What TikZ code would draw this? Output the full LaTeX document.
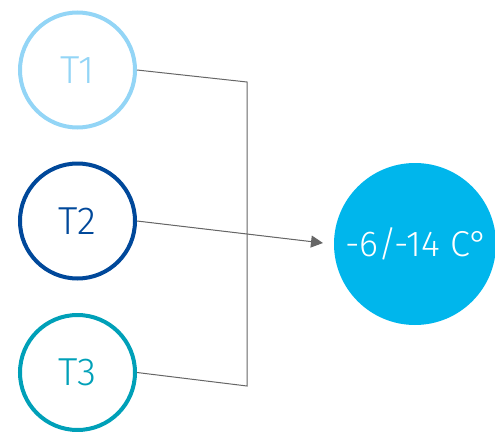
\documentclass[tikz,border=0pt]{standalone}
\usepackage{fontspec}
\setmainfont{Fira Sans}[UprightFont={* Light}]
\usetikzlibrary{arrows.meta}
\definecolor{cone}{HTML}{93D5F6}
\definecolor{ctwo}{HTML}{00489A}
\definecolor{cthree}{HTML}{00A0B8}
\definecolor{cbig}{HTML}{00B6EC}
\definecolor{cline}{HTML}{666666}
\tikzset{
  tcirc/.style={circle, draw, line width=4pt, inner sep=0pt, minimum size=115pt, font=\fontsize{39}{40}\selectfont},
  bigcirc/.style={circle, fill=cbig, inner sep=0pt, minimum size=162pt, text=white, font=\fontsize{36}{38}\selectfont},
  conn/.style={draw=cline, line width=1pt},
}
\begin{document}
\begin{tikzpicture}[x=1pt,y=-1pt]
\useasboundingbox (0,0) rectangle (495,431);
\node[tcirc, draw=cone, text=cone] (t1) at (77.5,70) {T1};
\node[tcirc, draw=ctwo, text=ctwo] (t2) at (77.5,221) {T2};
\node[tcirc, draw=cthree, text=cthree] (t3) at (77.5,372.5) {T3};
\node[bigcirc] (big) at (415,244) {\hspace*{4pt}-6/-14 C°};
\coordinate (c1) at (247,82);
\coordinate (c3) at (247,386);
\coordinate (tip) at (323,243);
\draw[conn] (t1.east) -- (c1) -- (c3) -- (t3.east);
\draw[conn, -{Triangle[length=12pt,width=12pt]}, fill=cline] (t2.east) -- (tip);
\end{tikzpicture}
\end{document}
